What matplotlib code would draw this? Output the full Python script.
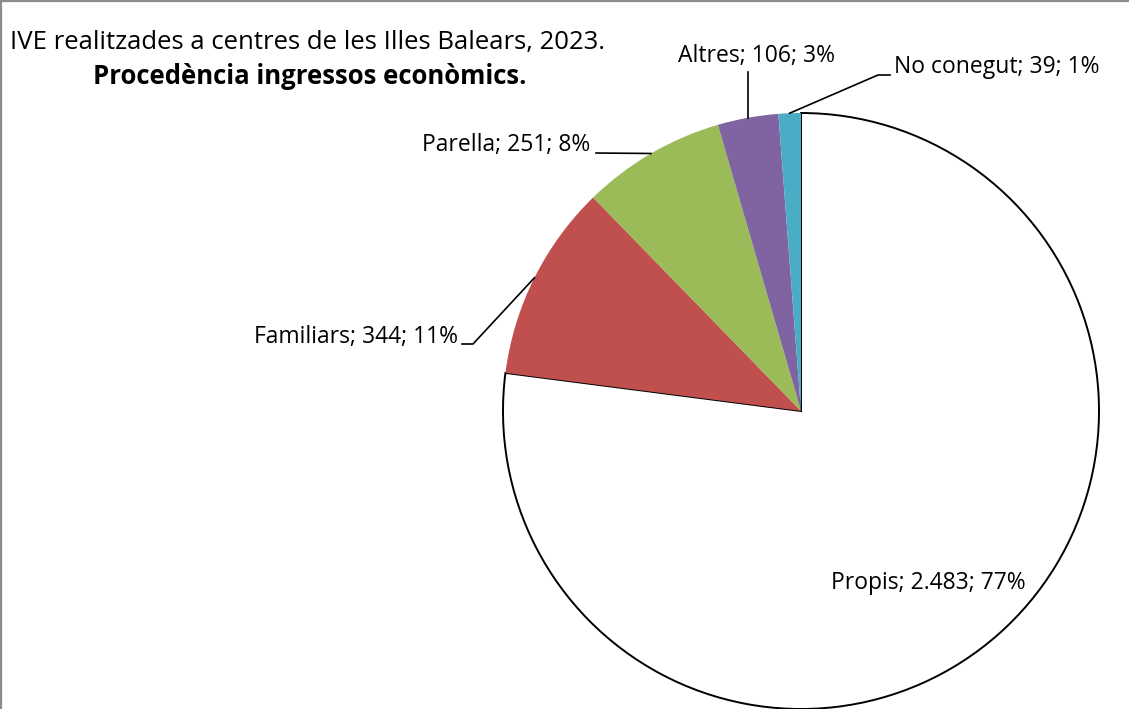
import matplotlib
matplotlib.use("Agg")
import matplotlib.pyplot as plt
import numpy as np

categories = ["Propis", "Familiars", "Parella", "Altres", "No conegut"]
values = [2483, 344, 251, 106, 39]
percent_labels = ["77%", "11%", "8%", "3%", "1%"]
value_labels = ["2.483", "344", "251", "106", "39"]
colors = ["#FFFFFF", "#C0504D", "#9BBB59", "#8064A2", "#4BACC6"]

plt.rcParams['font.family'] = ['Open Sans', 'DejaVu Sans']

W, H = 1129, 709
fig = plt.figure(figsize=(W / 100, H / 100), dpi=100)
ax = fig.add_axes([0, 0, 1, 1])

cx, cy, R = 801, H - 411, 298
wedges, _ = ax.pie(values, colors=colors, startangle=90, counterclock=False,
                   center=(cx, cy), radius=R, frame=True,
                   wedgeprops=dict(linewidth=0))
wedges[0].set_edgecolor('black')
wedges[0].set_linewidth(1.4)
ax.set_xlim(0, W)
ax.set_ylim(0, H)
ax.set_aspect('equal')
ax.axis('off')

fs = 16.5
labels = [f"{c}; {v}; {p}" for c, v, p in zip(categories, value_labels, percent_labels)]

def edge_point(w):
    a = np.deg2rad((w.theta1 + w.theta2) / 2)
    return cx + R * np.cos(a), cy + R * np.sin(a)

# Propis (inside)
ax.text(928, H - 583, labels[0], ha='center', va='center', fontsize=fs)

# Familiars
ex, ey = edge_point(wedges[1])
ax.plot([ex, 473, 462], [ey, H - 344, H - 344], color='black', lw=1.2)
ax.text(458, H - 337, labels[1], ha='right', va='center', fontsize=fs)

# Parella
ex, ey = edge_point(wedges[2])
ax.plot([ex, 596], [ey, H - 153], color='black', lw=1.2)
ax.text(590, H - 145, labels[2], ha='right', va='center', fontsize=fs)

# Altres
ex, ey = edge_point(wedges[3])
ax.plot([ex, ex], [ey, H - 72], color='black', lw=1.2)
ax.text(756, H - 56, labels[3], ha='center', va='center', fontsize=fs)

# No conegut
ex, ey = edge_point(wedges[4])
ax.plot([ex, 878, 890], [ey, H - 75, H - 75], color='black', lw=1.2)
ax.text(894, H - 67, labels[4], ha='left', va='center', fontsize=fs)

# Title
ax.text(308, H - 42, "IVE realitzades a centres de les Illes Balears, 2023.",
        ha='center', va='center', fontsize=18.5)
ax.text(310, H - 76, "Procedència ingressos econòmics.",
        ha='center', va='center', fontsize=18.5, fontweight='bold')

# Border (left and top visible)
ax.plot([1, 1], [0, H - 1], color='#8C8C8C', lw=1.6, clip_on=False)
ax.plot([1, W], [H - 1, H - 1], color='#8C8C8C', lw=1.6, clip_on=False)

fig.savefig("out.png", dpi=100)
